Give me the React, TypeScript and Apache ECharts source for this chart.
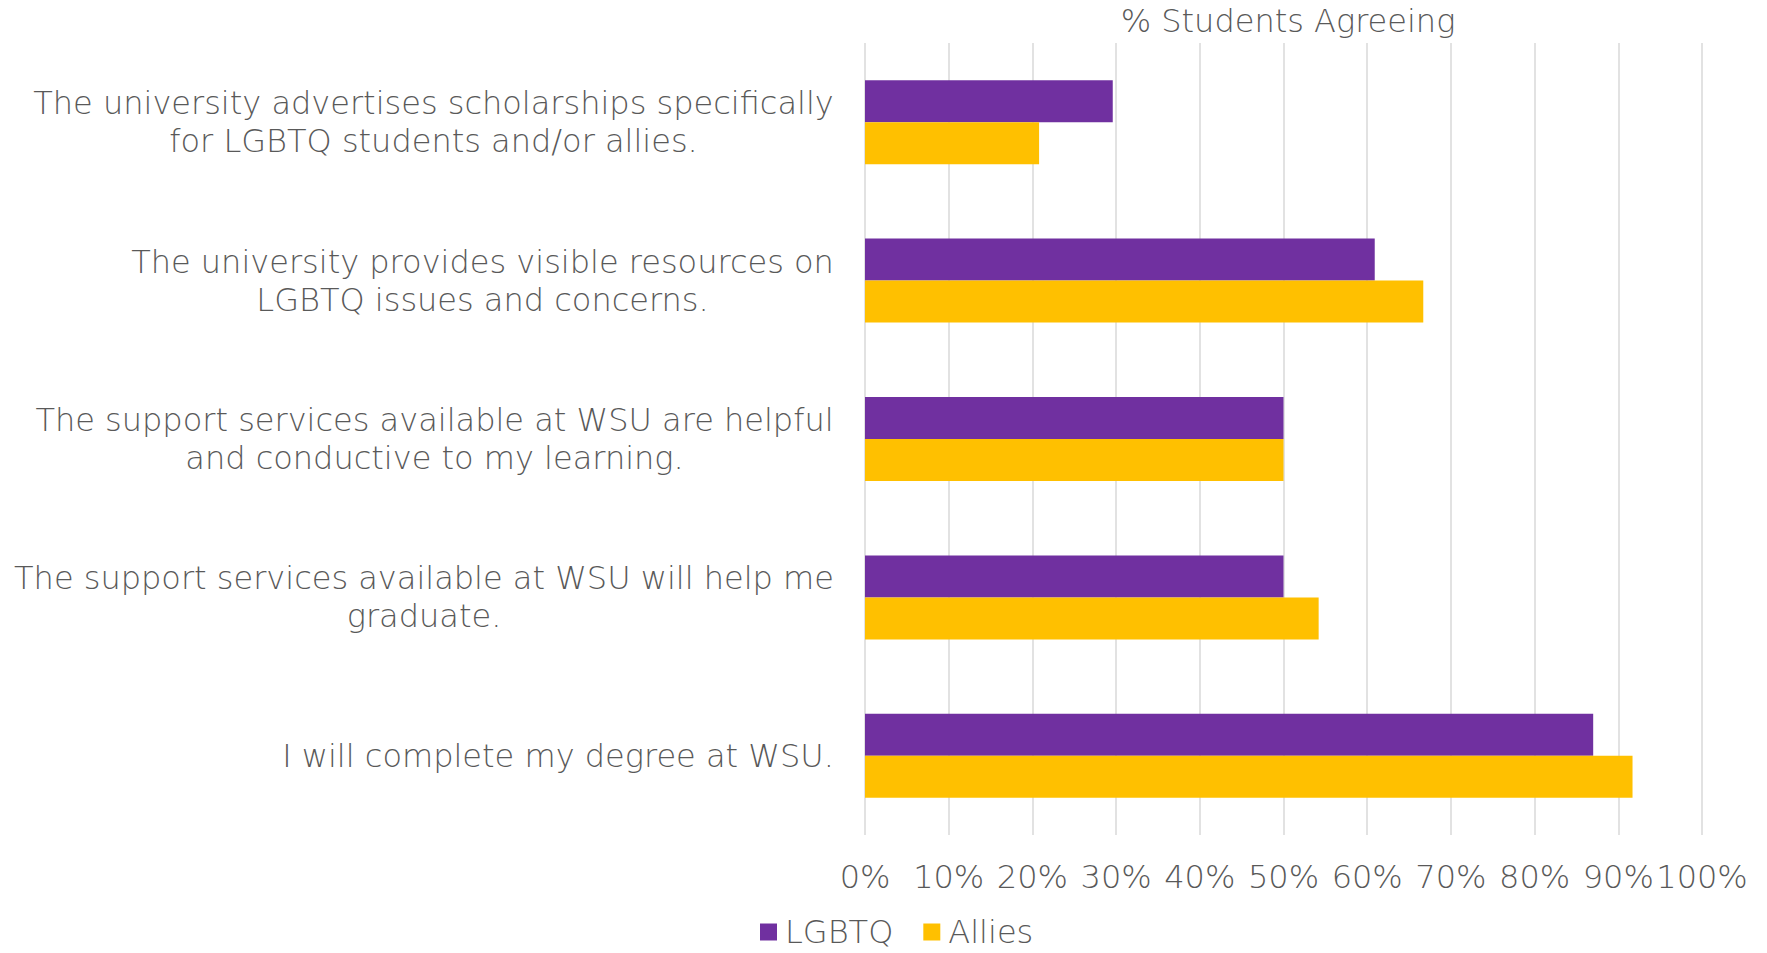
import React, { useEffect, useRef } from "react";
import * as echarts from "echarts";

const categories: string[][] = [
  ["The university advertises scholarships specifically", "for LGBTQ students and/or allies."],
  ["The university provides visible resources on", "LGBTQ issues and concerns."],
  ["The support services available at WSU are helpful", "and conductive to my learning."],
  ["The support services available at WSU will help me", "graduate."],
  ["I will complete my degree at WSU."],
];
const lgbtq: number[] = [29.6, 60.9, 50, 50, 87.0];
const allies: number[] = [20.8, 66.7, 50, 54.2, 91.7];
const xTicks: number[] = [0, 10, 20, 30, 40, 50, 60, 70, 80, 90, 100];

const FONT = "DejaVu Sans";
const FS = 32;
const FW: any = 200;
const GRAY = "#595959";

export default function App() {
  const ref = useRef<HTMLDivElement>(null);
  useEffect(() => {
    if (!ref.current) return;
    const chart = echarts.init(ref.current, undefined, { renderer: "svg" });
    const canvas = document.createElement("canvas");
    const ctx = canvas.getContext("2d")!;
    ctx.font = `${FW} ${FS}px "${FONT}"`;
    const rich: Record<string, any> = {};
    categories.forEach((lines, i) => {
      const w = Math.max(...lines.map((l) => ctx.measureText(l).width));
      rich["r" + i] = {
        width: Math.ceil(w) + 2,
        align: "center",
        fontSize: FS,
        fontWeight: FW,
        fontFamily: FONT,
        color: GRAY,
        lineHeight: 38,
      };
    });
    const catKeys = categories.map((_, i) => "c" + i);
    chart.setOption({
      animation: false,
      backgroundColor: "#ffffff",
      title: {
        text: "% Students Agreeing",
        left: 1283,
        textAlign: "center",
        top: 0,
        textStyle: { fontFamily: FONT, fontSize: FS, fontWeight: FW, color: GRAY },
      },
      legend: {
        left: 755,
        top: 910,
        itemWidth: 17,
        itemHeight: 17,
        itemGap: 30,
        icon: "rect",
        textStyle: {
          fontFamily: FONT,
          fontSize: FS,
          fontWeight: FW,
          color: GRAY,
          lineHeight: 34,
          padding: [0, 0, 0, 3],
        },
        data: ["LGBTQ", "Allies"],
      },
      grid: { left: 865, right: 65, top: 43, bottom: 118, containLabel: false },
      xAxis: {
        type: "value",
        min: 0,
        max: 100,
        interval: 10,
        axisLine: { show: false },
        axisTick: { show: false },
        splitLine: { show: true, lineStyle: { color: "#d9d9d9", width: 1.5 } },
        axisLabel: {
          margin: 26,
          fontFamily: FONT,
          fontSize: FS,
          fontWeight: FW,
          color: GRAY,
          formatter: (v: number) => (xTicks.includes(v) ? v + "%" : ""),
        },
      },
      yAxis: {
        type: "category",
        inverse: true,
        data: catKeys,
        axisLine: { show: false },
        axisTick: { show: false },
        splitLine: { show: false },
        axisLabel: {
          margin: 30,
          align: "right",
          rich,
          formatter: (_v: string, i: number) =>
            categories[i].map((l) => `{r${i}|${l}}`).join("\n"),
        },
      },
      series: [
        {
          name: "LGBTQ",
          type: "bar",
          data: lgbtq,
          barGap: "0%",
          barCategoryGap: "47%",
          itemStyle: { color: "#7030A0" },
        },
        {
          name: "Allies",
          type: "bar",
          data: allies,
          barGap: "0%",
          barCategoryGap: "47%",
          itemStyle: { color: "#FFC000" },
        },
      ],
    });
    return () => chart.dispose();
  }, []);
  return (
    <div
      ref={ref}
      style={{ position: "fixed", left: 0, top: 0, width: 1767, height: 953, background: "#fff" }}
    />
  );
}
